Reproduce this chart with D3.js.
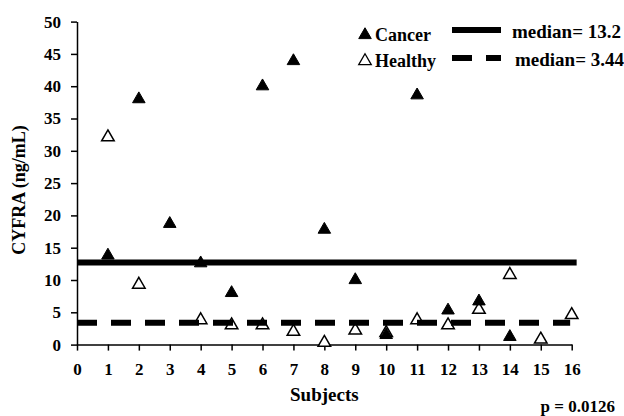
<!DOCTYPE html>
<html>
<head>
<meta charset="utf-8">
<script src="https://cdn.jsdelivr.net/npm/d3@7"></script>
<style>
  html, body { margin: 0; padding: 0; background: #fff; }
  svg text { font-family: "Liberation Serif", "Times New Roman", serif; font-weight: bold; fill: #000; }
</style>
</head>
<body>
<svg id="chart" width="624" height="416"></svg>
<script>
// ---- data ----
const cancerSubjects = [1, 2, 3, 4, 5, 6, 7, 8, 9, 10, 11, 12, 13, 14];
const cancerValues   = [13.8, 38.0, 18.7, 12.6, 8.0, 40.0, 43.9, 17.8, 10.0, 1.5, 38.6, 5.3, 6.7, 1.2];
const healthySubjects = [1, 2, 4, 5, 6, 7, 8, 9, 10, 11, 12, 13, 14, 15, 16];
const healthyValues   = [32.1, 9.3, 3.8, 3.0, 3.0, 2.0, 0.3, 2.2, 1.8, 3.8, 3.0, 5.4, 10.8, 0.8, 4.6];
const medianCancerDrawn = 12.7;
const medianHealthyDrawn = 3.4;
const medianLabels = ["median= 13.2", "median= 3.44"];
const seriesNames = ["Cancer", "Healthy"];
const xTicks = d3.range(0, 17, 1);
const yTicks = d3.range(0, 51, 5);
const xLabel = "Subjects";
const yLabel = "CYFRA (ng/mL)";
const pText = "p = 0.0126";

// ---- layout ----
const svg = d3.select("#chart");
const x = d3.scaleLinear().domain([0, 16]).range([77, 571.7]);
const y = d3.scaleLinear().domain([0, 50]).range([344.6, 21.6]);

// axes
const yAxis = d3.axisLeft(y).tickValues(yTicks).tickSize(6).tickPadding(10).tickSizeOuter(0);
const xAxis = d3.axisBottom(x).tickValues(xTicks).tickSize(6).tickPadding(12).tickSizeOuter(0);

const gy = svg.append("g").attr("transform", `translate(${x(0)},0)`).call(yAxis);
const gx = svg.append("g").attr("transform", `translate(0,${y(0)})`).call(xAxis);
[gx, gy].forEach(g => {
  g.select(".domain").attr("stroke", "#000").attr("stroke-width", 1.5);
  g.selectAll(".tick line").attr("stroke", "#000").attr("stroke-width", 1.5);
  g.selectAll(".tick text").attr("font-size", 17).attr("font-family", "Liberation Serif").attr("font-weight", "bold").attr("fill", "#000");
});

// markers
const triSize = 68;
const tri = d3.symbol().type(d3.symbolTriangle).size(triSize);

svg.append("g").selectAll("path")
  .data(healthySubjects.map((s, i) => ({ s, v: healthyValues[i] })))
  .join("path")
  .attr("d", tri)
  .attr("transform", d => `translate(${x(d.s)},${y(d.v)})`)
  .attr("fill", "#fff").attr("stroke", "#000").attr("stroke-width", 1.5);

svg.append("g").selectAll("path")
  .data(cancerSubjects.map((s, i) => ({ s, v: cancerValues[i] })))
  .join("path")
  .attr("d", tri)
  .attr("transform", d => `translate(${x(d.s)},${y(d.v)})`)
  .attr("fill", "#000").attr("stroke", "#000").attr("stroke-width", 1);

// median lines
svg.append("line")
  .attr("x1", x(0)).attr("x2", x(16.16))
  .attr("y1", y(medianCancerDrawn)).attr("y2", y(medianCancerDrawn))
  .attr("stroke", "#000").attr("stroke-width", 6);
svg.append("line")
  .attr("x1", x(0)).attr("x2", x(15.95))
  .attr("y1", y(medianHealthyDrawn)).attr("y2", y(medianHealthyDrawn))
  .attr("stroke", "#000").attr("stroke-width", 6)
  .attr("stroke-dasharray", "20,14");

// axis titles
svg.append("text")
  .attr("x", (x(0) + x(16)) / 2).attr("y", 401)
  .attr("text-anchor", "middle").attr("font-size", 19)
  .text(xLabel);
svg.append("text")
  .attr("transform", "translate(25,190) rotate(-90)")
  .attr("text-anchor", "middle").attr("font-size", 18)
  .text(yLabel);
svg.append("text")
  .attr("x", 615).attr("y", 412)
  .attr("text-anchor", "end").attr("font-size", 17)
  .text(pText);

// legend
const legRows = [35, 61];
const lg = svg.append("g");
lg.append("path").attr("d", tri).attr("transform", `translate(365,${legRows[0]})`).attr("fill", "#000").attr("stroke", "#000");
lg.append("path").attr("d", tri).attr("transform", `translate(365,${legRows[1]})`).attr("fill", "#fff").attr("stroke", "#000").attr("stroke-width", 1.3);
seriesNames.forEach((n, i) => {
  lg.append("text").attr("x", 375).attr("y", legRows[i] + 6).attr("font-size", 18).text(n);
});
lg.append("line").attr("x1", 452).attr("x2", 501).attr("y1", 30).attr("y2", 30).attr("stroke", "#000").attr("stroke-width", 6);
lg.append("line").attr("x1", 452).attr("x2", 501).attr("y1", 58).attr("y2", 58).attr("stroke", "#000").attr("stroke-width", 6).attr("stroke-dasharray", "20,14");
lg.append("text").attr("x", 512).attr("y", 38).attr("font-size", 19).text(medianLabels[0]);
lg.append("text").attr("x", 515).attr("y", 66).attr("font-size", 19).text(medianLabels[1]);
</script>
</body>
</html>
